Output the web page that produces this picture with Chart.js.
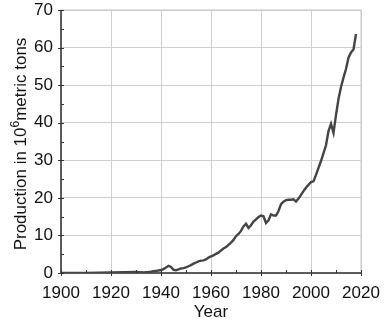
<!DOCTYPE html>
<html>
<head>
<meta charset="utf-8">
<script src="https://cdn.jsdelivr.net/npm/chart.js@4"></script>
<style>
  html, body { margin: 0; padding: 0; background: #fff; }
  #wrap { width: 390px; height: 328px; }
</style>
</head>
<body>
<div id="wrap"><canvas id="chart" width="390" height="328"></canvas></div>
<script>
// ----------------------------
// DATA (world production, 10^6 metric tons)
// ----------------------------
const years = [
  1900, 1905, 1910, 1915, 1920, 1925, 1930, 1933, 1935, 1936, 1937, 1938, 1939,
  1940, 1941, 1942, 1943, 1944, 1945, 1946, 1947, 1948, 1949,
  1950, 1951, 1952, 1953, 1954, 1955, 1956, 1957, 1958, 1959,
  1960, 1961, 1962, 1963, 1964, 1965, 1966, 1967, 1968, 1969,
  1970, 1971, 1972, 1973, 1974, 1975, 1976, 1977, 1978, 1979,
  1980, 1981, 1982, 1983, 1984, 1985, 1986, 1987, 1988, 1989,
  1990, 1991, 1992, 1993, 1994, 1995, 1996, 1997, 1998, 1999,
  2000, 2001, 2002, 2003, 2004, 2005, 2006, 2007, 2008, 2009,
  2010, 2011, 2012, 2013, 2014, 2015, 2016, 2017, 2018
];
const production = [
  0.01, 0.02, 0.04, 0.07, 0.13, 0.18, 0.27, 0.14, 0.26, 0.36, 0.49, 0.58, 0.68,
  0.8, 1.05, 1.45, 1.9, 1.6, 0.85, 0.75, 0.95, 1.2, 1.3,
  1.5, 1.8, 2.1, 2.5, 2.8, 3.1, 3.3, 3.35, 3.6, 4.1,
  4.4, 4.7, 5.1, 5.4, 6.0, 6.5, 6.9, 7.5, 8.1, 8.8,
  9.8, 10.4, 11.2, 12.4, 13.1, 12.0, 12.7, 13.7, 14.3, 14.9,
  15.3, 15.1, 13.3, 14.0, 15.6, 15.3, 15.3, 16.5, 18.3, 19.0,
  19.4, 19.5, 19.5, 19.6, 19.0, 19.8, 20.8, 21.8, 22.7, 23.5,
  24.2, 24.4, 26.1, 28.0, 29.8, 31.9, 34.0, 37.8, 39.7, 37.3,
  42.0, 46.3, 49.5, 52.0, 54.3, 57.3, 58.7, 59.5, 63.6
];
const xTicks = [1900, 1920, 1940, 1960, 1980, 2000, 2020];
const yTicks = [0, 10, 20, 30, 40, 50, 60, 70];

const FONT = "'Liberation Sans', Arial, Helvetica, sans-serif";

// ----------------------------
// PLUGIN: frame, ticks and axis titles
// ----------------------------
const axisDecor = {
  id: "axisDecor",
  afterDraw(chart) {
    const { ctx, chartArea: a, scales: { x, y } } = chart;
    ctx.save();

    // light frame on top/right
    ctx.strokeStyle = "#c8c8c8";
    ctx.lineWidth = 1;
    ctx.strokeRect(a.left, a.top, a.right - a.left, a.bottom - a.top);

    // dark axes
    ctx.strokeStyle = "#333";
    ctx.lineWidth = 1.5;
    ctx.beginPath();
    ctx.moveTo(a.left, a.top);
    ctx.lineTo(a.left, a.bottom);
    ctx.lineTo(a.right, a.bottom);
    ctx.stroke();

    // ticks
    ctx.lineWidth = 1;
    for (let v = 0; v <= 70; v += 5) {
      const py = Math.round(y.getPixelForValue(v)) + 0.5;
      const major = v % 10 === 0;
      ctx.beginPath();
      ctx.moveTo(a.left - (major ? 3 : 0), py);
      ctx.lineTo(a.left + 3, py);
      ctx.stroke();
    }
    for (let v = 1900; v <= 2020; v += 10) {
      const px = Math.round(x.getPixelForValue(v)) + 0.5;
      const major = v % 20 === 0;
      ctx.beginPath();
      ctx.moveTo(px, a.bottom + (major ? 3 : 0));
      ctx.lineTo(px, a.bottom - 3);
      ctx.stroke();
    }

    // titles
    ctx.fillStyle = "#111";
    ctx.font = "17px " + FONT;
    ctx.textAlign = "center";
    ctx.textBaseline = "middle";
    ctx.fillText("Year", (a.left + a.right) / 2, 312);

    const p1 = "Production in 10", sup = "6", p2 = "metric tons";
    ctx.font = "17px " + FONT;
    const w1 = ctx.measureText(p1).width;
    const w3 = ctx.measureText(p2).width;
    ctx.font = "12px " + FONT;
    const w2 = ctx.measureText(sup).width;
    const total = w1 + w2 + w3;
    ctx.translate(20, 144);
    ctx.rotate(-Math.PI / 2);
    ctx.textAlign = "left";
    ctx.textBaseline = "alphabetic";
    let cx = -total / 2;
    ctx.font = "17px " + FONT;
    ctx.fillText(p1, cx, 6);
    cx += w1;
    ctx.font = "12px " + FONT;
    ctx.fillText(sup, cx, -1);
    cx += w2;
    ctx.font = "17px " + FONT;
    ctx.fillText(p2, cx, 6);

    ctx.restore();
  }
};

// ----------------------------
// CHART
// ----------------------------
new Chart(document.getElementById("chart").getContext("2d"), {
  type: "line",
  data: {
    datasets: [{
      data: years.map((yr, i) => ({ x: yr, y: production[i] })),
      borderColor: "#444",
      borderWidth: 2.4,
      pointRadius: 0,
      fill: false,
      tension: 0
    }]
  },
  options: {
    responsive: false,
    animation: false,
    layout: { padding: { top: 10, right: 29, left: 0, bottom: 0 } },
    plugins: { legend: { display: false }, tooltip: { enabled: false } },
    scales: {
      x: {
        type: "linear",
        min: 1900,
        max: 2020,
        afterBuildTicks: (s) => { s.ticks = xTicks.map(v => ({ value: v })); },
        afterFit: (s) => { s.height = 55; s.paddingLeft = 0; s.paddingRight = 0; },
        ticks: {
          color: "#111", font: { family: FONT, size: 17 }, padding: 10, maxRotation: 0,
          callback: (v) => String(v)
        },
        grid: { color: "#cfcfcf", drawTicks: false },
        border: { display: false }
      },
      y: {
        min: 0,
        max: 70,
        afterBuildTicks: (s) => { s.ticks = yTicks.map(v => ({ value: v })); },
        afterFit: (s) => { s.width = 61; s.paddingTop = 0; s.paddingBottom = 0; },
        ticks: { color: "#111", font: { family: FONT, size: 17 }, padding: 8 },
        grid: { color: "#cfcfcf", drawTicks: false },
        border: { display: false }
      }
    }
  },
  plugins: [axisDecor]
});
</script>
</body>
</html>
